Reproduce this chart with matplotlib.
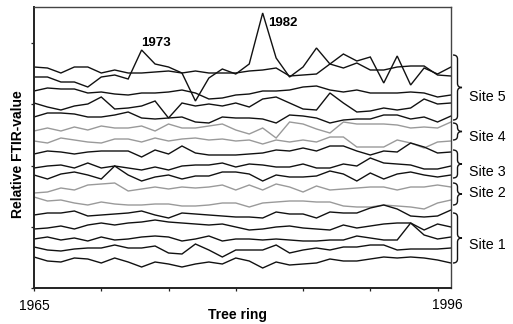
import numpy as np
import matplotlib
matplotlib.use("Agg")
import matplotlib.pyplot as plt
from matplotlib.path import Path
from matplotlib.patches import PathPatch
from matplotlib.transforms import blended_transform_factory, IdentityTransform

plt.rcParams['font.family'] = ['Liberation Sans', 'DejaVu Sans']

years = np.arange(1965, 1997)

# Site 5 (black)
site5_a = [221,220,215,221,221,215,218,215,215,216,217,215,217,215,215,215,217,218,220,212,213,214,224,234,227,231,205,232,203,220,214,221]
site5_b = [211,211,206,206,201,211,213,209,238,224,221,215,187,210,219,214,224,275,230,211,221,240,224,220,225,218,218,221,222,222,213,212]
site5_c = [197,200,199,199,195,196,194,193,195,195,196,198,195,189,190,193,194,197,197,198,201,202,198,196,198,195,195,195,196,195,191,193]
site5_d = [185,181,178,182,184,191,179,180,182,187,170,185,182,184,182,185,181,189,191,185,179,178,195,185,176,177,180,178,180,189,184,185]
site5_e = [171,175,175,174,171,171,173,176,170,169,170,171,166,165,171,170,170,169,165,173,172,170,165,168,169,169,173,173,169,171,166,172]
# Site 4 (grey)
site4_a = [157,160,157,161,158,162,160,160,162,157,164,160,160,162,164,158,154,160,150,166,164,159,155,166,164,164,164,163,160,161,160,166]
site4_b = [147,145,150,148,146,145,149,149,146,150,147,149,150,148,149,147,148,144,148,146,148,146,151,151,141,141,141,148,145,140,146,147]
# Site 3 (black)
site3_a = [134,137,136,134,136,137,137,137,131,138,134,142,135,133,133,133,134,135,138,137,140,137,142,142,137,133,137,136,145,141,135,136]
site3_b = [120,122,123,120,125,120,122,120,118,121,118,122,123,123,125,121,124,123,121,121,124,120,120,124,122,130,125,124,123,119,119,122]
site3_c = [113,109,114,116,113,109,122,113,107,111,113,109,112,112,116,116,114,107,113,111,111,112,117,114,107,115,109,114,116,113,111,113]
# Site 2 (grey)
site2_a = [95,96,100,98,103,104,105,97,99,101,99,101,100,101,103,98,103,98,104,101,96,102,98,99,100,101,101,98,101,101,103,101]
site2_b = [91,87,88,85,83,86,84,83,83,84,84,82,82,83,85,85,81,85,86,87,87,86,86,82,81,81,83,82,81,79,85,88]
# Site 1 (black)
site1_a = [73,75,75,77,72,73,74,75,77,73,70,75,74,73,72,71,71,70,76,74,74,70,76,75,75,80,83,79,72,71,72,78]
site1_b = [59,60,62,59,63,65,63,65,66,68,66,65,64,63,64,61,58,59,61,62,60,59,58,63,60,62,64,65,65,58,64,61]
site1_c = [49,51,48,50,47,51,48,49,51,52,51,47,49,52,47,49,49,48,49,48,47,47,48,48,52,50,48,48,65,53,49,51]
site1_d = [41,38,37,39,40,40,43,40,40,42,35,34,44,38,31,38,38,38,43,35,38,40,38,41,41,43,43,38,39,39,39,40]
site1_e = [31,27,26,30,29,25,30,26,21,26,24,21,24,26,24,30,27,20,26,23,24,25,29,27,27,29,31,30,31,30,28,25]

black_series = [site5_a, site5_b, site5_c, site5_d, site5_e,
                site3_a, site3_b, site3_c,
                site1_a, site1_b, site1_c, site1_d, site1_e]
grey_series = [site4_a, site4_b, site2_a, site2_b]

site_labels = ['Site 5', 'Site 4', 'Site 3', 'Site 2', 'Site 1']
brace_top = [233, 165, 138, 105, 75]
brace_bot = [168, 148, 110, 83, 25]
label_y = [191, 151, 116, 95, 43]

W, H = 513, 324
fig = plt.figure(figsize=(W/100, H/100), dpi=100)
ax = fig.add_axes([34/W, 36/H, 417/W, 281/H])

for s in grey_series:
    ax.plot(years, s, color='#9a9a9a', lw=1.0, solid_joinstyle='miter')
for s in black_series:
    ax.plot(years, s, color='#111111', lw=1.0, solid_joinstyle='miter')

ax.set_xlim(1965, 1996)
ax.set_ylim(0, 281)
ax.set_xticks(np.arange(1965, 1996, 5))
ax.set_xticklabels([])
ax.set_yticks(np.arange(5) * 61.25)
ax.set_yticklabels([])
ax.tick_params(axis='both', direction='out', length=2.2, width=0.9, color='#222222')
for side in ['left', 'bottom']:
    ax.spines[side].set_linewidth(1.4)
    ax.spines[side].set_color('#222222')
for side in ['top', 'right']:
    ax.spines[side].set_linewidth(1.0)
    ax.spines[side].set_color('#444444')

ax.text(1965.05, -17.7, '1965', ha='center', va='center', fontsize=10, clip_on=False)
ax.text(1995.7, -16.7, '1996', ha='center', va='center', fontsize=10, clip_on=False)
ax.text(1973.0, 245.5, '1973', ha='left', va='center', fontsize=9.5, fontweight='bold')
ax.text(1982.4, 265.5, '1982', ha='left', va='center', fontsize=9.5, fontweight='bold')

fig.text(237/W, 1 - 314.7/H, 'Tree ring', ha='center', va='center', fontsize=10, fontweight='bold')
fig.text(18/W, 1 - 154.5/H, 'Relative FTIR-value', ha='center', va='center', rotation=90,
         fontsize=10, fontweight='bold')

tr = blended_transform_factory(IdentityTransform(), ax.transData)
xl, xm, xt, r = 453.0, 457.5, 462.0, 4.0
for top, bot, lab, ly in zip(brace_top, brace_bot, site_labels, label_y):
    mid = (top + bot) / 2
    verts = [(xl, top), (xm, top), (xm, top - r),
             (xm, mid + r), (xm, mid), (xt, mid),
             (xm, mid), (xm, mid - r),
             (xm, bot + r), (xm, bot), (xl, bot)]
    codes = [Path.MOVETO, Path.CURVE3, Path.CURVE3,
             Path.LINETO, Path.CURVE3, Path.CURVE3,
             Path.CURVE3, Path.CURVE3,
             Path.LINETO, Path.CURVE3, Path.CURVE3]
    patch = PathPatch(Path(verts, codes), transform=tr, fill=False, lw=1.0,
                      edgecolor='#111111', clip_on=False)
    fig.add_artist(patch)
    ax.text(469, ly, lab, transform=tr, ha='left', va='center', fontsize=10.3, clip_on=False)

fig.savefig('out.png', dpi=100)
